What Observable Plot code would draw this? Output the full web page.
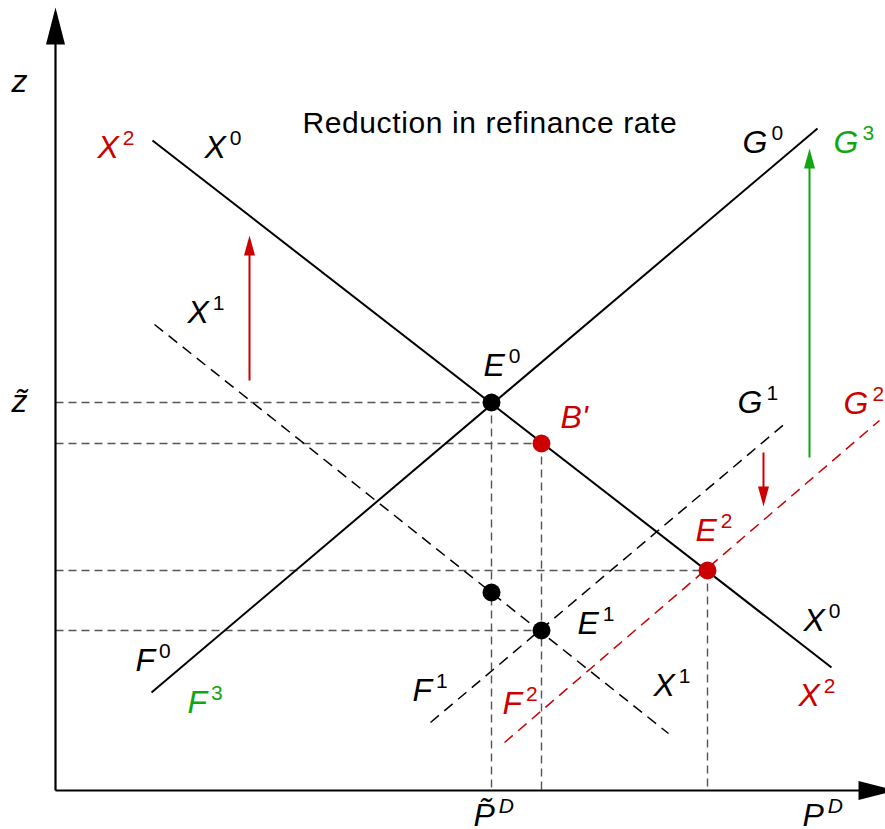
<!DOCTYPE html>
<html><head><meta charset="utf-8">
<script src="https://cdn.jsdelivr.net/npm/d3@7"></script>
<script src="https://cdn.jsdelivr.net/npm/@observablehq/plot@0.6"></script>
<style>html,body{margin:0;padding:0;background:#fff;overflow:hidden}</style>
</head><body><div id="chart"></div>
<script>
// Diagram units: origin at the axis crossing, x to the right, z upward
const curveNames = ["X0", "G0", "X1", "G1", "G2"];
const curveX1 = [97, 96, 99, 375, 449];
const curveY1 = [650, 98, 466, 68, 48];
const curveX2 = [776, 762, 613, 732, 824];
const curveY2 = [123, 662, 57, 369, 370];
const curveKind = ["solid", "solid", "dashed", "dashed", "red"];

const pointNames = ["E0", "B'", "E2", "P", "E1"];
const pointX = [436, 486, 652, 436, 486];
const pointY = [388, 347, 220, 198, 160];
const pointKind = ["black", "red", "red", "black", "black"];

const guideH = ["E0", "B'", "E2", "E1"];
const guideV = ["E0", "B'", "E2"];

const shiftX = [194, 754, 708];
const shiftFrom = [410, 333, 338];
const shiftTo = [555, 642, 284];
const shiftKind = ["red", "green", "red"];

const labelText = ["z", "z\u0303", "X^2", "X^0", "G^0", "G^3", "X^1", "E^0", "B'", "G^1", "G^2", "E^2", "X^0", "X^2", "X^1", "E^1", "F^1", "F^2", "F^0", "F^3", "P\u0303^D", "P^D"];
const labelX = [-44, -44, 42, 149, 687, 778, 132, 428, 505, 682, 788, 640, 748, 743, 598, 522, 357, 447, 80, 132, 418, 747];
const labelY = [699, 379, 633, 633, 638, 638, 468, 415, 363, 378, 377, 250, 160, 85, 95, 157, 90, 77, 120, 78, -35, -35];
const labelKind = ["black", "black", "red", "black", "black", "green", "black", "black", "red", "black", "red", "red", "black", "red", "black", "black", "black", "red", "black", "green", "black", "black"];

const titleText = ["Reduction in refinance rate"];
const titleX = [247];
const titleY = [658];

const axisTipX = 840, axisTipY = 783;

const RED = "#cc0000", GREEN = "#11a611", GUIDE = "#555";
const colorOf = k => k === "red" ? RED : k === "green" ? GREEN : "#000";

const curves = curveNames.map((name, i) => ({name, x1: curveX1[i], y1: curveY1[i], x2: curveX2[i], y2: curveY2[i], kind: curveKind[i]}));
const points = pointNames.map((name, i) => ({name, x: pointX[i], y: pointY[i], kind: pointKind[i]}));
const hGuides = points.filter(p => guideH.includes(p.name));
const vGuides = points.filter(p => guideV.includes(p.name));
const shifts = shiftX.map((x, i) => ({x, from: shiftFrom[i], to: shiftTo[i], kind: shiftKind[i], up: shiftTo[i] > shiftFrom[i]}));
const labels = labelText.map((t, i) => ({t, x: labelX[i], y: labelY[i], kind: labelKind[i]}));
const titles = titleText.map((t, i) => ({t, x: titleX[i], y: titleY[i]}));

const tri = (len, hw, dir) => ({draw(ctx) {
  if (dir === "up") { ctx.moveTo(0, 0); ctx.lineTo(hw, len); ctx.lineTo(-hw, len); }
  else if (dir === "down") { ctx.moveTo(0, 0); ctx.lineTo(hw, -len); ctx.lineTo(-hw, -len); }
  else { ctx.moveTo(0, 0); ctx.lineTo(-len, hw); ctx.lineTo(-len, -hw); }
  ctx.closePath();
}});

const FONT = "Liberation Sans, Arial, Helvetica, sans-serif";

const svg = Plot.plot({
  width: 885, height: 829,
  marginLeft: 55, marginRight: 0, marginTop: 0, marginBottom: 39,
  x: {domain: [0, 830], axis: null},
  y: {domain: [0, 790], axis: null},
  style: {background: "#fff", fontFamily: FONT},
  marks: [
    // guides
    Plot.link(hGuides, {x1: 0, y1: "y", x2: "x", y2: "y", stroke: GUIDE, strokeWidth: 1.4, strokeDasharray: "8,5"}),
    Plot.link(vGuides, {x1: "x", y1: "y", x2: "x", y2: 0, stroke: GUIDE, strokeWidth: 1.4, strokeDasharray: "8,5"}),
    // axes
    Plot.link([0], {x1: 0, y1: 0, x2: 0, y2: axisTipY - 30, stroke: "#000", strokeWidth: 2.2}),
    Plot.link([0], {x1: 0, y1: 0, x2: axisTipX - 30, y2: 0, stroke: "#000", strokeWidth: 2.2}),
    Plot.dot([0], {x: 0, y: axisTipY, symbol: tri(37, 9.5, "up"), fill: "#000", stroke: "none"}),
    Plot.dot([0], {x: axisTipX, y: 0, symbol: tri(37, 9.5, "right"), fill: "#000", stroke: "none"}),
    // curves
    Plot.link(curves.filter(d => d.kind === "solid"), {x1: "x1", y1: "y1", x2: "x2", y2: "y2", stroke: "#000", strokeWidth: 2}),
    Plot.link(curves.filter(d => d.kind === "dashed"), {x1: "x1", y1: "y1", x2: "x2", y2: "y2", stroke: "#000", strokeWidth: 1.5, strokeDasharray: "11,7"}),
    Plot.link(curves.filter(d => d.kind === "red"), {x1: "x1", y1: "y1", x2: "x2", y2: "y2", stroke: RED, strokeWidth: 1.5, strokeDasharray: "11,7"}),
    // shift arrows
    Plot.link(shifts, {x1: "x", y1: "from", x2: "x", y2: d => d.to + (d.up ? -15 : 15), stroke: d => colorOf(d.kind), strokeWidth: 2}),
    Plot.dot(shifts.filter(d => d.up), {x: "x", y: "to", symbol: tri(20, 5.5, "up"), fill: d => colorOf(d.kind), stroke: "none"}),
    Plot.dot(shifts.filter(d => !d.up), {x: "x", y: "to", symbol: tri(20, 5.5, "down"), fill: d => colorOf(d.kind), stroke: "none"}),
    // equilibrium points
    Plot.dot(points, {x: "x", y: "y", r: 9, fill: d => colorOf(d.kind), stroke: "none"}),
    // labels
    Plot.text(labels, {x: "x", y: "y", text: "t", fill: d => colorOf(d.kind), fontSize: 32, fontStyle: "italic", fontFamily: FONT, textAnchor: "start", lineAnchor: "bottom"}),
    Plot.text(titles, {x: "x", y: "y", text: "t", fill: "#000", fontSize: 30, fontFamily: FONT, textAnchor: "start", lineAnchor: "bottom"})
  ]
});

svg.querySelectorAll("text").forEach(t => {
  const s = t.textContent;
  if (s === titleText[0]) { t.setAttribute("letter-spacing", "0.6"); return; }
  const k = s.indexOf("^");
  if (k < 0) return;
  t.textContent = s.slice(0, k);
  const sup = s.slice(k + 1);
  const ts = document.createElementNS("http://www.w3.org/2000/svg", "tspan");
  ts.setAttribute("dx", "4");
  ts.setAttribute("dy", "-13");
  ts.setAttribute("font-size", "21");
  if (/^[0-9]+$/.test(sup)) ts.setAttribute("font-style", "normal");
  ts.textContent = sup;
  t.appendChild(ts);
});

document.getElementById("chart").appendChild(svg);
</script>
</body></html>
